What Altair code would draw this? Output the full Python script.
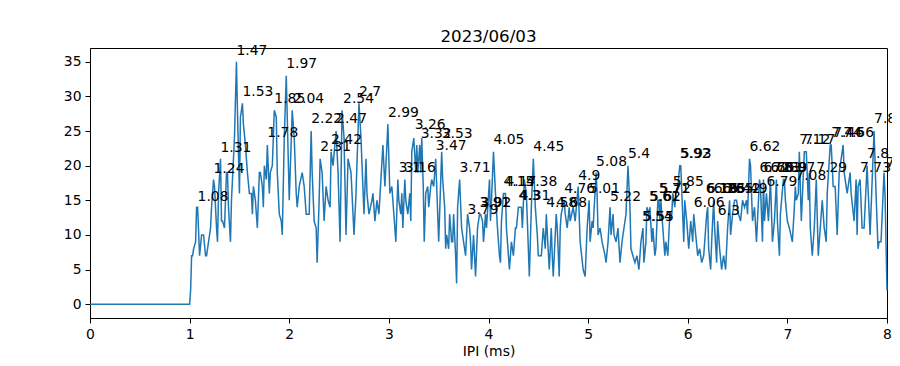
import altair as alt
import pandas as pd

TITLE = "2023/06/03"
X_TITLE = "IPI (ms)"

ipi_ms = [
    0, 1.00, 1.01, 1.02, 1.03, 1.04, 1.06, 1.07, 1.08, 1.10,
    1.12, 1.14, 1.16, 1.17, 1.19, 1.21, 1.22, 1.24, 1.25, 1.27,
    1.28, 1.29, 1.31, 1.32, 1.33, 1.35, 1.37, 1.38, 1.39, 1.41,
    1.42, 1.43, 1.45, 1.47, 1.48, 1.50, 1.51, 1.53, 1.54, 1.56,
    1.58, 1.60, 1.62, 1.63, 1.64, 1.66, 1.68, 1.70, 1.71, 1.73,
    1.74, 1.75, 1.77, 1.78, 1.80, 1.81, 1.83, 1.85, 1.87, 1.88,
    1.90, 1.92, 1.93, 1.95, 1.97, 2.00, 2.03, 2.05, 2.07, 2.08,
    2.10, 2.13, 2.15, 2.17, 2.20, 2.22, 2.23, 2.25, 2.27, 2.28,
    2.30, 2.31, 2.33, 2.35, 2.37, 2.39, 2.41, 2.42, 2.44, 2.47,
    2.49, 2.51, 2.53, 2.55, 2.57, 2.59, 2.62, 2.65, 2.67, 2.70,
    2.72, 2.75, 2.77, 2.78, 2.80, 2.83, 2.84, 2.86, 2.88, 2.90,
    2.94, 2.96, 2.99, 3.01, 3.03, 3.05, 3.07, 3.09, 3.10, 3.12,
    3.13, 3.14, 3.16, 3.17, 3.19, 3.21, 3.22, 3.23, 3.25, 3.27,
    3.28, 3.29, 3.31, 3.32, 3.33, 3.345, 3.355, 3.37, 3.39, 3.40,
    3.42, 3.43, 3.45, 3.47, 3.50, 3.53, 3.54, 3.56, 3.57, 3.58,
    3.60, 3.61, 3.63, 3.64, 3.65, 3.67, 3.68, 3.69, 3.71, 3.73,
    3.75, 3.77, 3.79, 3.81, 3.82, 3.83, 3.85, 3.87, 3.89, 3.91,
    3.92, 3.94, 3.95, 3.97, 3.98, 4.01, 4.02, 4.03, 4.05, 4.07,
    4.09, 4.11, 4.12, 4.13, 4.15, 4.17, 4.18, 4.19, 4.21, 4.23,
    4.25, 4.27, 4.28, 4.30, 4.31, 4.33, 4.34, 4.36, 4.38, 4.41,
    4.43, 4.45, 4.47, 4.49, 4.50, 4.53, 4.55, 4.57, 4.58, 4.61,
    4.63, 4.64, 4.65, 4.68, 4.69, 4.71, 4.72, 4.73, 4.76, 4.77,
    4.79, 4.81, 4.82, 4.85, 4.87, 4.90, 4.92, 4.95, 4.97, 4.99,
    5.01, 5.02, 5.04, 5.05, 5.08, 5.09, 5.10, 5.12, 5.14, 5.17,
    5.18, 5.20, 5.22, 5.23, 5.25, 5.26, 5.28, 5.30, 5.32, 5.34,
    5.36, 5.38, 5.40, 5.42, 5.43, 5.45, 5.47, 5.49, 5.51, 5.52,
    5.53, 5.55, 5.56, 5.58, 5.59, 5.61, 5.62, 5.64, 5.65, 5.67,
    5.68, 5.70, 5.71, 5.72, 5.73, 5.75, 5.77, 5.78, 5.80, 5.82,
    5.84, 5.85, 5.87, 5.88, 5.90, 5.92, 5.93, 5.96, 5.97, 5.99,
    6.01, 6.03, 6.05, 6.06, 6.08, 6.10, 6.12, 6.14, 6.16, 6.19,
    6.20, 6.21, 6.23, 6.24, 6.26, 6.27, 6.29, 6.30, 6.32, 6.34,
    6.36, 6.38, 6.40, 6.42, 6.43, 6.45, 6.47, 6.49, 6.51, 6.53,
    6.55, 6.57, 6.59, 6.60, 6.62, 6.63, 6.65, 6.67, 6.69, 6.70,
    6.72, 6.73, 6.75, 6.76, 6.77, 6.79, 6.81, 6.83, 6.85, 6.87,
    6.89, 6.90, 6.92, 6.93, 6.96, 6.97, 6.98, 7.00, 7.02, 7.05,
    7.07, 7.08, 7.09, 7.11, 7.12, 7.14, 7.17, 7.19, 7.21, 7.22,
    7.23, 7.25, 7.27, 7.29, 7.31, 7.33, 7.35, 7.37, 7.39, 7.40,
    7.43, 7.44, 7.46, 7.48, 7.50, 7.52, 7.56, 7.57, 7.60, 7.63,
    7.64, 7.67, 7.69, 7.70, 7.71, 7.73, 7.75, 7.77, 7.80, 7.83,
    7.87, 7.89, 7.91, 7.92, 7.94, 7.97, 7.98, 8.00,
]

counts = [
    0, 0, 2, 7, 7, 8, 9, 14, 14, 7,
    10, 10, 7, 7, 9, 11, 14, 18, 17, 11,
    9, 16, 21, 12, 12, 11, 19, 19, 14, 9,
    15, 18, 24, 35, 28, 16, 27, 29, 26, 23,
    19, 16, 16, 13, 17, 15, 11, 19, 19, 17,
    14, 20, 18, 23, 16, 19, 20, 28, 27, 19,
    13, 12, 10, 24, 33, 15, 28, 24, 16, 14,
    17, 19, 17, 13, 13, 25, 19, 12, 11, 6,
    15, 21, 19, 12, 17, 15, 14, 22, 20, 25,
    19, 9, 28, 24, 10, 21, 19, 10, 16, 29,
    24, 13, 21, 16, 13, 15, 16, 12, 15, 13,
    23, 17, 26, 16, 17, 13, 9, 18, 15, 13,
    16, 11, 18, 15, 13, 16, 12, 22, 24, 19,
    23, 19, 23, 19, 24, 17, 9, 16, 17, 14,
    17, 18, 17, 21, 9, 22, 18, 14, 8, 10,
    8, 13, 9, 9, 13, 7, 3, 14, 18, 11,
    9, 7, 13, 11, 9, 5, 10, 4, 11, 13,
    13, 12, 9, 13, 11, 18, 12, 15, 22, 16,
    11, 7, 6, 12, 16, 16, 11, 9, 5, 9,
    7, 11, 11, 14, 14, 14, 11, 18, 16, 4,
    14, 21, 14, 10, 7, 7, 11, 8, 13, 5,
    11, 7, 4, 13, 11, 4, 11, 13, 15, 13,
    11, 14, 12, 14, 12, 17, 9, 5, 4, 11,
    15, 9, 12, 11, 19, 16, 10, 11, 9, 7,
    6, 9, 14, 10, 13, 10, 9, 11, 6, 9,
    11, 13, 20, 14, 8, 7, 6, 7, 5, 7,
    9, 11, 6, 9, 14, 13, 14, 9, 11, 7,
    8, 15, 15, 12, 15, 11, 7, 9, 7, 13,
    13, 16, 14, 16, 17, 20, 20, 9, 15, 12,
    8, 12, 9, 13, 10, 7, 8, 6, 7, 13,
    14, 8, 5, 9, 15, 11, 6, 12, 8, 5,
    7, 5, 11, 15, 10, 13, 15, 15, 13, 12,
    15, 14, 15, 13, 21, 20, 12, 14, 9, 12,
    18, 17, 9, 18, 12, 16, 12, 18, 9, 12,
    18, 12, 7, 13, 18, 18, 15, 12, 11, 9,
    14, 17, 15, 16, 22, 12, 22, 22, 15, 19,
    11, 7, 11, 18, 7, 11, 15, 11, 9, 16,
    23, 23, 17, 17, 10, 19, 23, 19, 16, 19,
    16, 12, 18, 10, 17, 18, 11, 11, 20, 10,
    25, 16, 8, 9, 9, 19, 16, 2,
]

# peak annotations: label text, x position, y position (text baseline)
peak_labels = [
    "1.08", "1.24", "1.31", "1.47", "1.53", "1.78", "1.85", "1.97", "2.04", "2.22",
    "2.31", "2.42", "2.47", "2.54", "2.7", "2.99", "3.1", "3.16", "3.26", "3.32",
    "3.47", "3.53", "3.71", "3.79", "3.91", "3.92", "4.05", "4.15", "4.17", "4.3",
    "4.31", "4.38", "4.45", "4.58", "4.68", "4.76", "4.9", "5.01", "5.08", "5.22",
    "5.4", "5.54", "5.55", "5.61", "5.62", "5.71", "5.72", "5.85", "5.92", "5.93",
    "6.06", "6.18", "6.19", "6.26", "6.35", "6.42", "6.49", "6.3", "6.62", "6.72",
    "6.76", "6.79", "6.83", "6.89", "6.97", "7.08", "7.12", "7.17", "7.29", "7.44",
    "7.46", "7.56", "7.73", "7.8", "7.87", "7.99",
]
peak_x = [
    1.08, 1.24, 1.31, 1.47, 1.53, 1.78, 1.85, 1.97, 2.04, 2.22,
    2.31, 2.42, 2.47, 2.54, 2.70, 2.99, 3.10, 3.16, 3.26, 3.32,
    3.47, 3.53, 3.71, 3.79, 3.91, 3.92, 4.05, 4.15, 4.17, 4.30,
    4.31, 4.38, 4.45, 4.58, 4.68, 4.76, 4.90, 5.01, 5.08, 5.22,
    5.40, 5.54, 5.55, 5.61, 5.62, 5.71, 5.72, 5.85, 5.92, 5.93,
    6.06, 6.18, 6.19, 6.26, 6.35, 6.42, 6.49, 6.30, 6.62, 6.72,
    6.76, 6.79, 6.83, 6.89, 6.97, 7.08, 7.12, 7.17, 7.29, 7.44,
    7.46, 7.56, 7.73, 7.80, 7.87, 7.99,
]
peak_y = [
    14.9, 19.0, 22.0, 36.0, 30.0, 24.1, 29.0, 34.1, 29.0, 26.1,
    22.1, 23.1, 26.1, 29.0, 30.1, 27.1, 19.1, 19.1, 25.3, 24.0,
    22.2, 24.0, 19.1, 13.0, 14.1, 14.1, 23.1, 17.0, 17.0, 15.0,
    15.0, 17.0, 22.1, 14.1, 14.1, 16.0, 18.0, 16.0, 20.0, 14.9,
    21.1, 12.0, 12.0, 14.9, 14.9, 16.1, 16.1, 17.0, 21.1, 21.1,
    14.0, 16.1, 16.1, 16.1, 16.1, 16.1, 16.1, 12.9, 22.1, 19.1,
    19.1, 17.0, 19.1, 19.1, 19.1, 18.0, 23.1, 23.1, 19.1, 24.2,
    24.2, 24.2, 19.1, 21.1, 26.1, 19.8,
]

x_ticks = [0, 1, 2, 3, 4, 5, 6, 7, 8]
y_ticks = [0, 5, 10, 15, 20, 25, 30, 35]

assert len(ipi_ms) == len(counts)
assert len(peak_labels) == len(peak_x) == len(peak_y)

line_df = pd.DataFrame({"ipi": ipi_ms, "count": counts})
ann_df = pd.DataFrame({"label": peak_labels, "x": peak_x, "y": peak_y})

FONT = "DejaVu Sans"

x_scale = alt.Scale(domain=[0, 8], nice=False, zero=False)
y_scale = alt.Scale(domain=[-2.0, 37.0], nice=False, zero=False)

x_axis = alt.Axis(values=x_ticks, format="d", title=X_TITLE, grid=False,
                  labelOverlap=False, labelFlush=False, tickCount=len(x_ticks))
y_axis = alt.Axis(values=y_ticks, format="d", title=None, grid=False,
                  labelOverlap=False, labelFlush=False, tickCount=len(y_ticks))

line = alt.Chart(line_df).mark_line(color="#1f77b4", strokeWidth=1.5).encode(
    x=alt.X("ipi:Q", scale=x_scale, axis=x_axis),
    y=alt.Y("count:Q", scale=y_scale, axis=y_axis),
    order="ipi:Q",
)

text = alt.Chart(ann_df).mark_text(
    align="left", baseline="alphabetic", font=FONT, fontSize=13.9, color="black"
).encode(
    x=alt.X("x:Q", scale=x_scale, axis=x_axis),
    y=alt.Y("y:Q", scale=y_scale, axis=y_axis),
    text="label:N",
)

chart = (
    alt.layer(line, text)
    .properties(
        width=797,
        height=270,
        title=alt.TitleParams(
            TITLE, font=FONT, fontSize=16.7, fontWeight="normal", color="black",
            anchor="middle", frame="group", offset=-2,
        ),
        padding={"left": 82, "top": 40, "right": 5, "bottom": 40},
        autosize=alt.AutoSizeParams(type="none"),
    )
    .configure_view(stroke="black", strokeWidth=1)
    .configure_axis(
        labelFont=FONT, labelFontSize=13.9, labelColor="black",
        titleFont=FONT, titleFontSize=13.9, titleColor="black", titleFontWeight="normal",
        domainColor="black", domainWidth=1, tickColor="black", tickWidth=1,
        tickSize=5, labelPadding=4, titlePadding=4,
    )
)

chart.save("out.html", embed_options={"renderer": "svg", "actions": False})
